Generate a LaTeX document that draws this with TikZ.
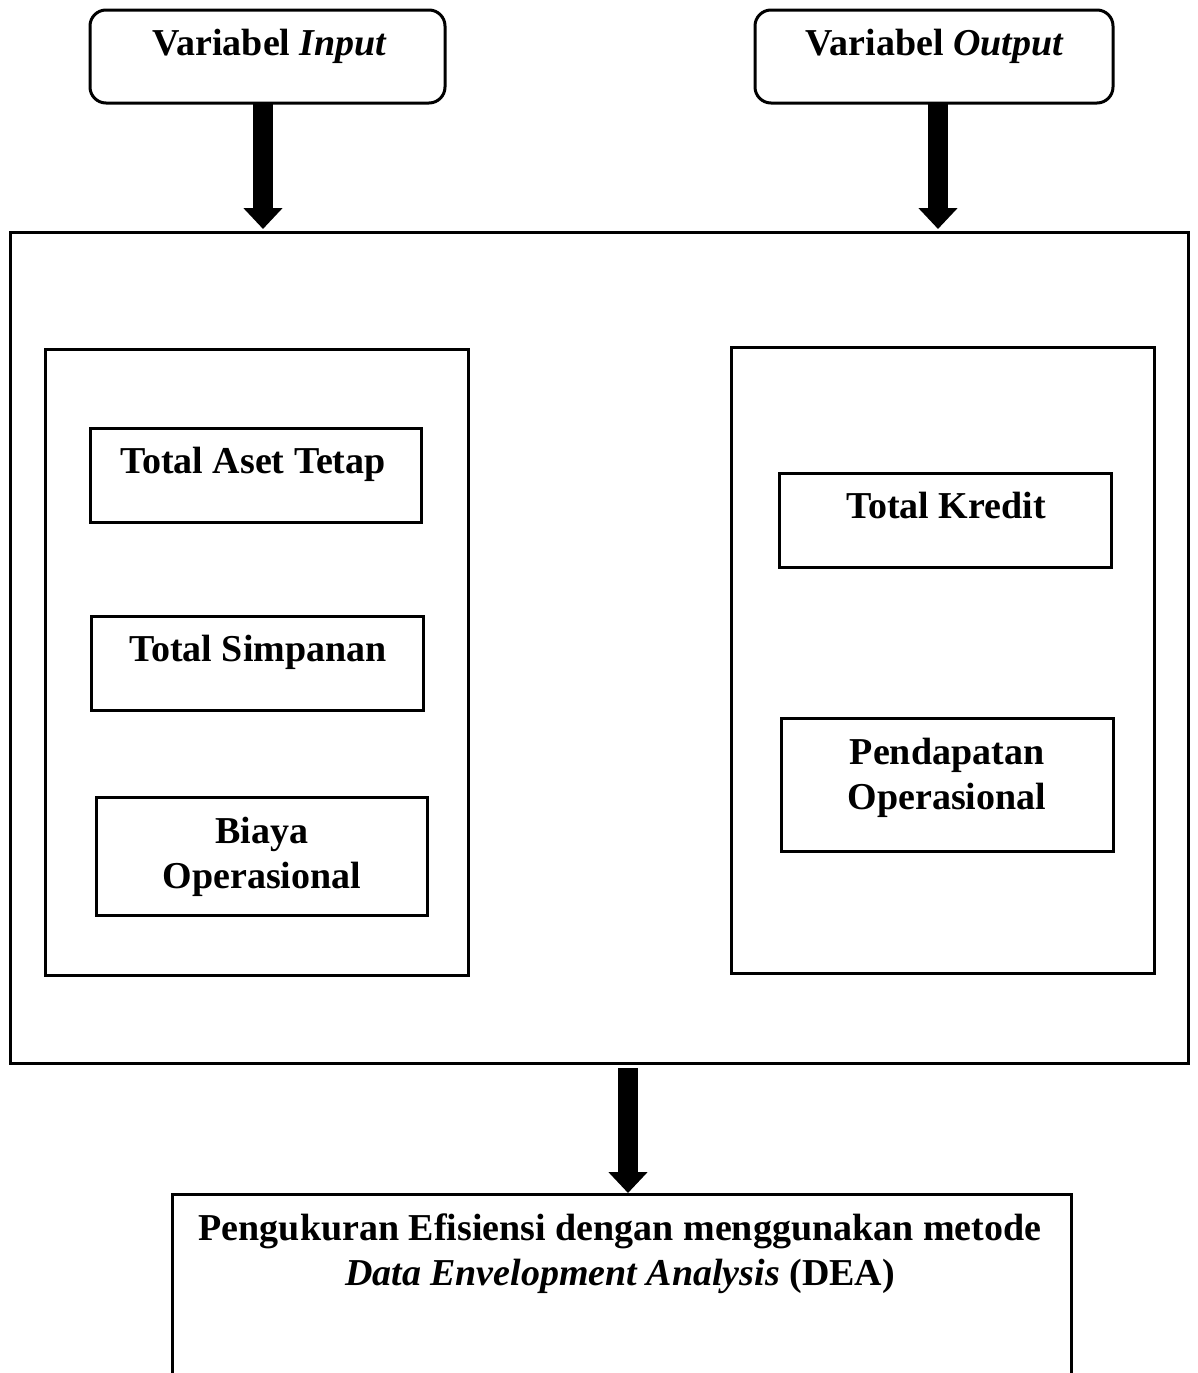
\documentclass[tikz,border=0pt]{standalone}
\usepackage{fontspec}
\setmainfont{Liberation Serif}
\usetikzlibrary{arrows.meta}
\begin{document}
\begin{tikzpicture}[x=1pt,y=-1pt,
  box/.style={draw=black,line width=3pt,inner sep=0pt,fill=none},
  rbox/.style={box,rounded corners=16pt},
  txt/.style={inner sep=0pt,align=center,font=\fontsize{38}{45}\selectfont\bfseries},
  fat/.style={line width=20pt,-{Triangle[width=38pt,length=21pt]}}]
\path[use as bounding box] (0,0) rectangle (1197,1373);
\clip (0,0) rectangle (1197,1373);
% top boxes
\node[rbox,minimum width=355pt,minimum height=93pt] (in) at (267.5,56.5) {};
\node[rbox,minimum width=358pt,minimum height=93pt] (out) at (934,56.5) {};
\node[txt] (intxt) at (270,46) {\strut Variabel \textit{Input}};
\node[txt] (outtxt) at (935,46) {\strut Variabel \textit{Output}};
% big box
\node[box,minimum width=1178pt,minimum height=831pt] (big) at (599,647.5) {};
% left group
\node[box,minimum width=423pt,minimum height=626pt] (left) at (256.5,662) {};
\node[box,minimum width=331pt,minimum height=94pt] (tat) at (255.5,475) {};
\node[txt] (tattxt) at (253,464) {\strut Total Aset Tetap};
\node[box,minimum width=332pt,minimum height=94pt] (ts) at (257,663) {};
\node[txt] (tstxt) at (258,652) {\strut Total Simpanan};
\node[box,minimum width=331pt,minimum height=118pt] (bo) at (261.5,856) {};
\node[txt] (botxt) at (262,856.5) {\strut Biaya\\\strut Operasional};
% right group
\node[box,minimum width=423pt,minimum height=626pt] (right) at (942.5,660) {};
\node[box,minimum width=332pt,minimum height=94pt] (tk) at (945,520) {};
\node[txt] (tktxt) at (946,509) {\strut Total Kredit};
\node[box,minimum width=332pt,minimum height=133pt] (po) at (947,784.5) {};
\node[txt] (potxt) at (947,777.5) {\strut Pendapatan\\\strut Operasional};
% bottom box (cut off by the page edge)
\node[box,minimum width=899pt,minimum height=220pt] (dea) at (621.5,1304) {};
\node[txt] (deatxt) at (620,1253.5) {\strut Pengukuran Efisiensi dengan menggunakan metode\\\strut \textit{Data Envelopment Analysis} (DEA)};
% arrows
\coordinate (a1s) at (263,103);
\coordinate (a1e) at (263,229);
\coordinate (a2s) at (938,103);
\coordinate (a2e) at (938,229);
\coordinate (a3s) at (628,1068);
\coordinate (a3e) at (628,1193);
\draw[fat] (a1s) -- (a1e);
\draw[fat] (a2s) -- (a2e);
\draw[fat] (a3s) -- (a3e);
\end{tikzpicture}
\end{document}
